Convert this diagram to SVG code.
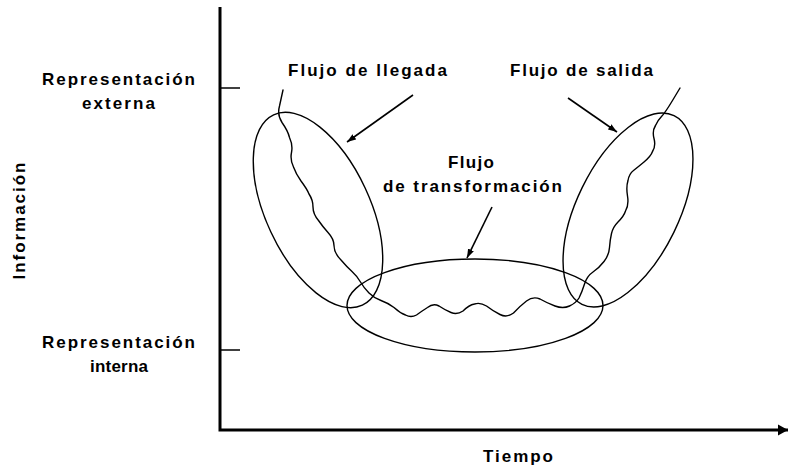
<svg xmlns="http://www.w3.org/2000/svg" width="797" height="474" viewBox="0 0 797 474">
  <style>
    .lbl { font-family: "Liberation Sans", Arial, sans-serif; font-size: 17px; font-weight: bold; fill: #000; }
    .axis { stroke: #000; stroke-width: 3; fill: none; }
    .tick { stroke: #000; stroke-width: 1.5; fill: none; }
    .curve { stroke: #000; stroke-width: 1.4; fill: none; stroke-linejoin: round; stroke-linecap: round; }
    .ptr { stroke: #000; stroke-width: 1.6; fill: none; }
  </style>
  <defs>
    <marker id="ah" markerUnits="userSpaceOnUse" markerWidth="10" markerHeight="8" refX="9" refY="4" orient="auto">
      <path d="M0,0.8 L9,4 L0,7.2 Z" fill="#000"/>
    </marker>
    <marker id="axh" markerUnits="userSpaceOnUse" markerWidth="12" markerHeight="14" refX="10" refY="7" orient="auto">
      <path d="M0,1.5 L10,7 L0,12.5 Z" fill="#000"/>
    </marker>
  </defs>
  <rect width="797" height="474" fill="#fff"/>

  <g id="axes">
    <path class="axis" d="M220,7 L220,430 L788,430" marker-end="url(#axh)"/>
    <path class="tick" d="M220,88 L240,88"/>
    <path class="tick" d="M220,350 L240,350"/>
  </g>

  <g id="axis-labels">
    <text class="lbl" x="118.5" y="85" text-anchor="middle" textLength="153" lengthAdjust="spacing">Representación</text>
    <text class="lbl" x="118.5" y="109" text-anchor="middle" textLength="73" lengthAdjust="spacing">externa</text>
    <text class="lbl" x="118.5" y="348" text-anchor="middle" textLength="153" lengthAdjust="spacing">Representación</text>
    <text class="lbl" x="119" y="372" text-anchor="middle" textLength="58" lengthAdjust="spacing">interna</text>
    <text class="lbl" transform="translate(25,221) rotate(-90)" x="0" y="0" text-anchor="middle" textLength="117" lengthAdjust="spacing">Información</text>
    <text class="lbl" x="518" y="462" text-anchor="middle" textLength="70" lengthAdjust="spacing">Tiempo</text>
  </g>

  <g id="flujo-llegada">
    <ellipse class="curve" cx="318" cy="210" rx="105" ry="52" transform="rotate(65 318 210)"/>
    <text class="lbl" x="288" y="76" textLength="159" lengthAdjust="spacing">Flujo de llegada</text>
  </g>

  <g id="flujo-salida">
    <ellipse class="curve" cx="628" cy="210" rx="105" ry="51" transform="rotate(-64 628 210)"/>
    <text class="lbl" x="510" y="76" textLength="143" lengthAdjust="spacing">Flujo de salida</text>
  </g>

  <g id="flujo-transformacion">
    <ellipse class="curve" cx="475" cy="305.5" rx="128" ry="46.5"/>
    <text class="lbl" x="448" y="168" textLength="46" lengthAdjust="spacing">Flujo</text>
    <text class="lbl" x="383" y="192" textLength="179" lengthAdjust="spacing">de transformación</text>
  </g>

  <g id="flow-line">
    <path class="curve" d="M283,90 L279.5,106 Q277,115 282,122.5 Q288,131 289.5,137.5 Q293,145 291.5,152.5 Q290,160 293.5,167 Q296,174 301,181 Q307,189 309,194 Q313,200 313,207 Q313,214 318.5,220.5 Q323,227 328,232.5 Q334,239 334,245.5 Q334,253 341,260 Q347,267 352,271.5 Q357,276 360.5,282 Q364,288 369,293 Q374,298 381,300.5 Q388,303 394,307.5 Q400,313 405.5,315 Q411,318 416.5,315 Q422,311 427.5,307.5 Q433,303 439,306 Q445,310 451,312.5 Q457,315 463,311 Q469,305 474.5,304 Q480,302 486.5,306 Q493,311 500,314.5 Q507,318 513.5,313 Q520,306 526.5,301 Q533,296 540,299 Q547,303 555,306 Q563,309 569.5,306 Q576,303 579,298 Q582,292 584.5,284 Q587,276 593,272 Q599,268 604,261.5 Q609,255 609.5,247.5 Q610,240 611.5,233.5 Q613,227 618,222 Q624,216 625.5,211 Q629,205 627.5,196 Q626,187 628,180.5 Q629,174 633.5,170.5 Q638,167 644,162 Q651,156 652.5,151.5 Q656,146 654,138.5 Q652,131 655.5,125.5 Q658,120 661.5,116.5 Q665,113 672.5,100.5 L680,88"/>
  </g>

  <g id="connectors">
    <path class="ptr" d="M413,95 L347,142" marker-end="url(#ah)"/>
    <path class="ptr" d="M568,98 L617,132" marker-end="url(#ah)"/>
    <path class="ptr" d="M492,207 L467,258" marker-end="url(#ah)"/>
  </g>
</svg>
